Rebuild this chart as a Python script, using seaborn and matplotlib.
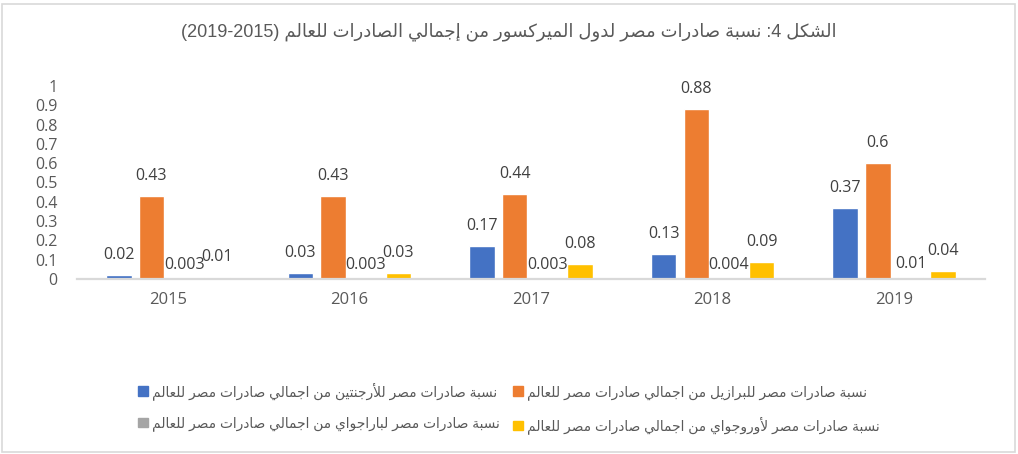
import re
import pandas as pd
import matplotlib
matplotlib.use('Agg')
import matplotlib.pyplot as plt
import matplotlib.patches as mpatches
import seaborn as sns

# data
years = ['2015', '2016', '2017', '2018', '2019']
argentina = [0.02, 0.03, 0.17, 0.13, 0.37]
brazil = [0.43, 0.43, 0.44, 0.88, 0.6]
paraguay = [0.003, 0.003, 0.003, 0.004, 0.01]
uruguay = [0.01, 0.03, 0.08, 0.09, 0.04]

series_names = [
    'نسبة صادرات مصر للأرجنتين من اجمالي صادرات مصر للعالم',
    'نسبة صادرات مصر للبرازيل من اجمالي صادرات مصر للعالم',
    'نسبة صادرات مصر لباراجواي من اجمالي صادرات مصر للعالم',
    'نسبة صادرات مصر لأوروجواي من اجمالي صادرات مصر للعالم',
]
title = 'الشكل 4: نسبة صادرات مصر لدول الميركسور من إجمالي الصادرات للعالم (2015-2019)'
yticks = [0, 0.1, 0.2, 0.3, 0.4, 0.5, 0.6, 0.7, 0.8, 0.9, 1]

colors = ['#4472C4', '#ED7D31', '#A5A5A5', '#FFC000']
text_color = '#595959'
line_color = '#D9D9D9'

# matplotlib has no arabic shaping, so pick the contextual forms by hand
FORMS = {
    'ء': (0xFE80, 1), 'آ': (0xFE81, 2), 'أ': (0xFE83, 2), 'ؤ': (0xFE85, 2),
    'إ': (0xFE87, 2), 'ئ': (0xFE89, 4), 'ا': (0xFE8D, 2), 'ب': (0xFE8F, 4),
    'ة': (0xFE93, 2), 'ت': (0xFE95, 4), 'ث': (0xFE99, 4), 'ج': (0xFE9D, 4),
    'ح': (0xFEA1, 4), 'خ': (0xFEA5, 4), 'د': (0xFEA9, 2), 'ذ': (0xFEAB, 2),
    'ر': (0xFEAD, 2), 'ز': (0xFEAF, 2), 'س': (0xFEB1, 4), 'ش': (0xFEB5, 4),
    'ص': (0xFEB9, 4), 'ض': (0xFEBD, 4), 'ط': (0xFEC1, 4), 'ظ': (0xFEC5, 4),
    'ع': (0xFEC9, 4), 'غ': (0xFECD, 4), 'ف': (0xFED1, 4), 'ق': (0xFED5, 4),
    'ك': (0xFED9, 4), 'ل': (0xFEDD, 4), 'م': (0xFEE1, 4), 'ن': (0xFEE5, 4),
    'ه': (0xFEE9, 4), 'و': (0xFEED, 2), 'ى': (0xFEEF, 2), 'ي': (0xFEF1, 4),
}
LAM_ALEF = {'آ': 0xFEF5, 'أ': 0xFEF7, 'إ': 0xFEF9, 'ا': 0xFEFB}


def shape(text):
    toks = []
    i = 0
    while i < len(text):
        if text[i] == 'ل' and text[i + 1:i + 2] in LAM_ALEF:
            toks.append(text[i:i + 2])
            i += 2
        else:
            toks.append(text[i])
            i += 1

    def joins_next(t):
        return len(t) == 1 and t in FORMS and FORMS[t][1] == 4

    def is_letter(t):
        return len(t) == 2 or t in FORMS

    out = []
    for k, t in enumerate(toks):
        prev = k > 0 and joins_next(toks[k - 1])
        if len(t) == 2:
            out.append(chr(LAM_ALEF[t[1]] + int(prev)))
            continue
        if t not in FORMS:
            out.append(t)
            continue
        base, n = FORMS[t]
        nxt = n == 4 and k + 1 < len(toks) and is_letter(toks[k + 1])
        if n == 1:
            f = 0
        elif n == 2:
            f = int(prev)
        else:
            f = {(0, 0): 0, (1, 0): 1, (0, 1): 2, (1, 1): 3}[(int(prev), int(nxt))]
        out.append(chr(base + f))
    return ''.join(out)


def rtl(text):
    s = shape(text)[::-1]
    s = s.translate(str.maketrans('()', ')('))
    return re.sub(r'[0-9.]+', lambda m: m.group(0)[::-1], s)


df = pd.DataFrame({
    'year': years * 4,
    'value': argentina + brazil + paraguay + uruguay,
    'series': [s for s in series_names for _ in years],
})

sns.set_style('white')
plt.rcParams['font.family'] = ['Open Sans', 'DejaVu Sans']

fig = plt.figure(figsize=(10.18, 4.54), dpi=100)
ax = fig.add_axes([77 / 1018, 1 - 279 / 454, 908 / 1018, 193 / 454])

sns.barplot(data=df, x='year', y='value', hue='series', hue_order=series_names,
            palette=colors, saturation=1, width=0.72, gap=0.22, legend=False, ax=ax)

values = [argentina, brazil, paraguay, uruguay]
for i, cont in enumerate(ax.containers):
    pad = 4 if i == 2 else 8.5
    ax.bar_label(cont, labels=[f'{v:g}' for v in values[i]], padding=pad,
                 fontsize=11.5, color='#404040', clip_on=False)

ax.set_ylim(0, 1)
ax.set_yticks(yticks)
ax.set_yticklabels([f'{v:g}' for v in yticks])
ax.set_xlim(-0.5, 4.5)
ax.set_xlabel('')
ax.set_ylabel('')
ax.tick_params(axis='y', length=0, pad=14, labelsize=11.5, labelcolor=text_color)
ax.tick_params(axis='x', length=0, pad=9, labelsize=12, labelcolor=text_color)
for side in ['top', 'right', 'left']:
    ax.spines[side].set_visible(False)
ax.spines['bottom'].set_color(line_color)
ax.spines['bottom'].set_linewidth(1.6)

fig.text(0.5, 1 - 32 / 454, rtl(title), ha='center', va='center', fontsize=13,
         color=text_color, family=['Liberation Sans', 'DejaVu Sans'])

# legend fills column-wise, so reorder to read row by row like the original
order = [0, 2, 1, 3]
handles = [mpatches.Patch(color=colors[k]) for k in order]
labels = [rtl(series_names[k]) for k in order]
fig.legend(handles, labels, ncol=2, loc='center',
           bbox_to_anchor=(0.5, 1 - 408 / 454), frameon=False,
           labelcolor=text_color, handlelength=0.7, handleheight=0.7,
           handletextpad=0.3, columnspacing=1.0, labelspacing=1.2,
           prop={'family': ['Liberation Sans', 'DejaVu Sans'], 'size': 9.9})

fig.patches.append(mpatches.Rectangle((2 / 1018, 2 / 454), 1013 / 1018, 448 / 454,
                                      transform=fig.transFigure, fill=False,
                                      edgecolor=line_color, linewidth=1.2))

fig.savefig('out.png', dpi=100)
